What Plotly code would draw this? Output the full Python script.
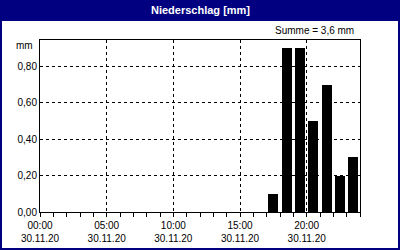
import plotly.graph_objects as go

# Data
hour_starts = ["2020-11-30 17:00", "2020-11-30 18:00", "2020-11-30 19:00", "2020-11-30 20:00",
               "2020-11-30 21:00", "2020-11-30 22:00", "2020-11-30 23:00"]
precip_mm = [0.1, 0.9, 0.9, 0.5, 0.7, 0.2, 0.3]
y_ticks = [0, 0.2, 0.4, 0.6, 0.8]
title_text = "Niederschlag [mm]"
sum_text = "Summe = 3,6 mm"
unit_text = "mm"

W, H = 400, 250
L, R, T, B = 40, 40, 40, 38
pw, ph = W - L - R, H - T - B

def px(x):
    return (x - L) / pw

def py(y):
    return (H - B - y) / ph

FONT = "Liberation Sans"

fig = go.Figure()
fig.add_trace(go.Bar(
    x=hour_starts, y=precip_mm,
    xperiod=3600000, xperiodalignment="middle",
    width=2700000,
    marker=dict(color="black", line=dict(width=0)),
))

fig.update_layout(
    width=W, height=H,
    margin=dict(l=L, r=R, t=T, b=B, autoexpand=False),
    paper_bgcolor="#000080",
    plot_bgcolor="white",
    showlegend=False,
    separators=",.",
    font=dict(family=FONT, size=10, color="black"),
    bargap=0,
)

fig.update_xaxes(
    type="date",
    range=["2020-11-30 00:00", "2020-12-01 00:00"],
    tick0="2020-11-30 00:00", dtick=5 * 3600000,
    tickformat="%H:%M<br>%d.%m.%y",
    ticks="outside", ticklen=4, tickcolor="black",
    minor=dict(dtick=3600000, ticks="outside", ticklen=4, tickcolor="black", showgrid=False),
    showgrid=True, gridcolor="black", gridwidth=1, griddash="3px,3px",
    showline=True, linecolor="black", linewidth=1, mirror=True,
    zeroline=False, automargin=False,
    tickfont=dict(family=FONT, size=10, color="black"),
)
fig.update_yaxes(
    range=[0, 0.945],
    tickvals=y_ticks, tickformat=".2f",
    ticks="",
    showgrid=True, gridcolor="black", gridwidth=1, griddash="3px,3px",
    showline=True, linecolor="black", linewidth=1, mirror=True,
    zeroline=False, automargin=False,
    tickfont=dict(family=FONT, size=10, color="black"),
)

# white page inside navy border
fig.add_shape(type="rect", xref="paper", yref="paper", layer="below",
              x0=px(2), x1=px(398), y0=py(248), y1=py(21),
              fillcolor="white", line=dict(width=0))

fig.add_annotation(text="<b>" + title_text + "</b>", xref="paper", yref="paper",
                   x=px(200), y=py(10.5), xanchor="center", yanchor="middle", showarrow=False,
                   font=dict(family=FONT, size=11, color="white"))
fig.add_annotation(text=sum_text, xref="paper", yref="paper",
                   x=px(356), y=py(31), xanchor="right", yanchor="middle", showarrow=False,
                   font=dict(family=FONT, size=10, color="black"))
fig.add_annotation(text=unit_text, xref="paper", yref="paper",
                   x=px(35), y=py(45), xanchor="right", yanchor="middle", showarrow=False,
                   font=dict(family=FONT, size=10, color="black"))

fig.write_html("out.html", config={"displayModeBar": False},
               post_script="document.body.style.margin='0';")
